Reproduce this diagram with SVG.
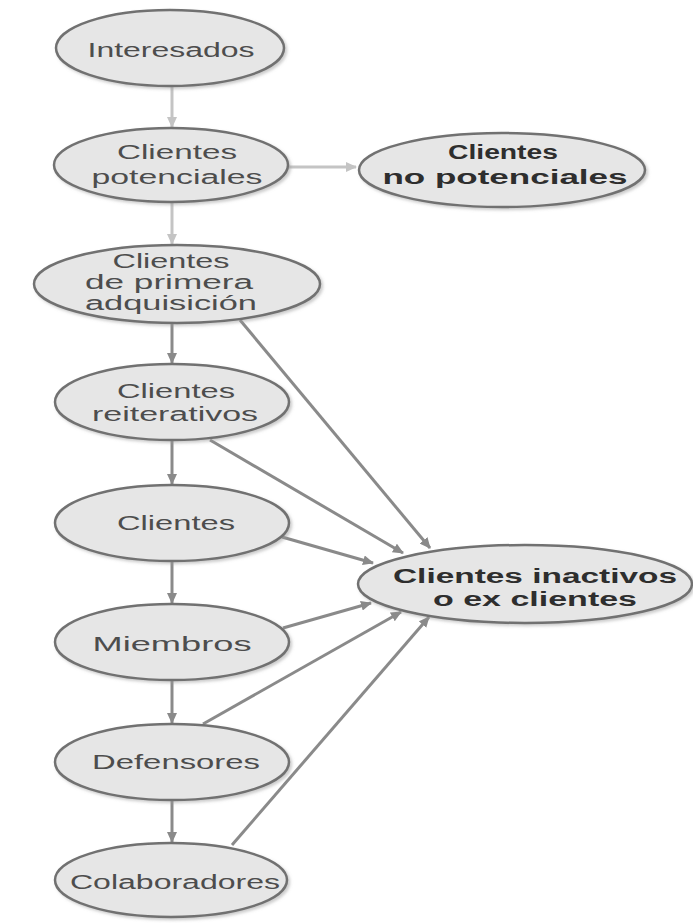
<svg xmlns="http://www.w3.org/2000/svg" width="693" height="923" viewBox="0 0 693 923">
  <defs>
    <filter id="shadow" x="-10%" y="-20%" width="125%" height="150%">
      <feDropShadow dx="2" dy="2" stdDeviation="1.5" flood-color="#999" flood-opacity="0.5"/>
    </filter>
    <marker id="head" markerUnits="userSpaceOnUse" markerWidth="12" markerHeight="10" refX="10" refY="5" orient="auto">
      <path d="M0,0 L11,5 L0,10 Z" fill="#8a8a8a"/>
    </marker>
    <marker id="head-light" markerUnits="userSpaceOnUse" markerWidth="12" markerHeight="10" refX="10" refY="5" orient="auto">
      <path d="M0,0 L11,5 L0,10 Z" fill="#c4c4c4"/>
    </marker>
  </defs>
  <style>
    .node ellipse { fill: #e6e6e6; stroke: #717171; stroke-width: 2.5; filter: url(#shadow); }
    .node text { font-family: "Liberation Sans", Arial, sans-serif; font-size: 20px; fill: #4d4d4d; text-anchor: middle; }
    .node text.strong { font-weight: bold; fill: #2e2e2e; }
    .edge { stroke: #8a8a8a; stroke-width: 3; fill: none; marker-end: url(#head); }
    .edge.light { stroke: #c4c4c4; marker-end: url(#head-light); }
  </style>
  <rect width="693" height="923" fill="#ffffff"/>

  <g id="connectors">
    <line class="edge light" x1="172" y1="87" x2="172" y2="127"/>
    <line class="edge light" x1="289" y1="167" x2="356" y2="167"/>
    <line class="edge light" x1="172" y1="203" x2="172" y2="244"/>
    <line class="edge" x1="172" y1="323" x2="172" y2="363"/>
    <line class="edge" x1="172" y1="441" x2="172" y2="484"/>
    <line class="edge" x1="172" y1="562" x2="172" y2="603"/>
    <line class="edge" x1="172" y1="681" x2="172" y2="723"/>
    <line class="edge" x1="172" y1="801" x2="172" y2="842"/>
    <line class="edge" x1="240" y1="320" x2="430" y2="548"/>
    <line class="edge" x1="210" y1="440" x2="403" y2="553"/>
    <line class="edge" x1="282" y1="537" x2="373" y2="563"/>
    <line class="edge" x1="283" y1="628" x2="371" y2="603"/>
    <line class="edge" x1="203" y1="724" x2="401" y2="612"/>
    <line class="edge" x1="232" y1="845" x2="429" y2="617"/>
  </g>

  <g id="interesados" class="node">
    <ellipse cx="170" cy="48" rx="114" ry="38"/>
    <text x="171" y="57" textLength="167" lengthAdjust="spacingAndGlyphs">Interesados</text>
  </g>

  <g id="potenciales" class="node">
    <ellipse cx="171" cy="165" rx="117" ry="37"/>
    <text x="177" y="159" textLength="120" lengthAdjust="spacingAndGlyphs">Clientes</text>
    <text x="177" y="184" textLength="171" lengthAdjust="spacingAndGlyphs">potenciales</text>
  </g>

  <g id="no-potenciales" class="node">
    <ellipse cx="502" cy="170" rx="143" ry="37"/>
    <text class="strong" x="503" y="159" textLength="110" lengthAdjust="spacingAndGlyphs">Clientes</text>
    <text class="strong" x="505" y="184" textLength="245" lengthAdjust="spacingAndGlyphs">no potenciales</text>
  </g>

  <g id="primera-adquisicion" class="node">
    <ellipse cx="177" cy="284" rx="143" ry="39"/>
    <text x="171" y="268" textLength="117" lengthAdjust="spacingAndGlyphs">Clientes</text>
    <text x="169" y="289" textLength="168" lengthAdjust="spacingAndGlyphs">de primera</text>
    <text x="171" y="310" textLength="172" lengthAdjust="spacingAndGlyphs">adquisición</text>
  </g>

  <g id="reiterativos" class="node">
    <ellipse cx="172" cy="402" rx="117" ry="38"/>
    <text x="176" y="398" textLength="118" lengthAdjust="spacingAndGlyphs">Clientes</text>
    <text x="175" y="421" textLength="166" lengthAdjust="spacingAndGlyphs">reiterativos</text>
  </g>

  <g id="clientes" class="node">
    <ellipse cx="172" cy="523" rx="117" ry="38"/>
    <text x="176" y="530" textLength="118" lengthAdjust="spacingAndGlyphs">Clientes</text>
  </g>

  <g id="miembros" class="node">
    <ellipse cx="172" cy="642" rx="117" ry="38"/>
    <text x="172" y="651" textLength="159" lengthAdjust="spacingAndGlyphs">Miembros</text>
  </g>

  <g id="defensores" class="node">
    <ellipse cx="172" cy="762" rx="117" ry="38"/>
    <text x="176" y="769" textLength="168" lengthAdjust="spacingAndGlyphs">Defensores</text>
  </g>

  <g id="colaboradores" class="node">
    <ellipse cx="171" cy="880" rx="116" ry="37"/>
    <text x="175" y="889" textLength="210" lengthAdjust="spacingAndGlyphs">Colaboradores</text>
  </g>

  <g id="inactivos" class="node">
    <ellipse cx="525" cy="584" rx="167" ry="39"/>
    <text class="strong" x="535" y="583" textLength="284" lengthAdjust="spacingAndGlyphs">Clientes inactivos</text>
    <text class="strong" x="535" y="606" textLength="204" lengthAdjust="spacingAndGlyphs">o ex clientes</text>
  </g>
</svg>
